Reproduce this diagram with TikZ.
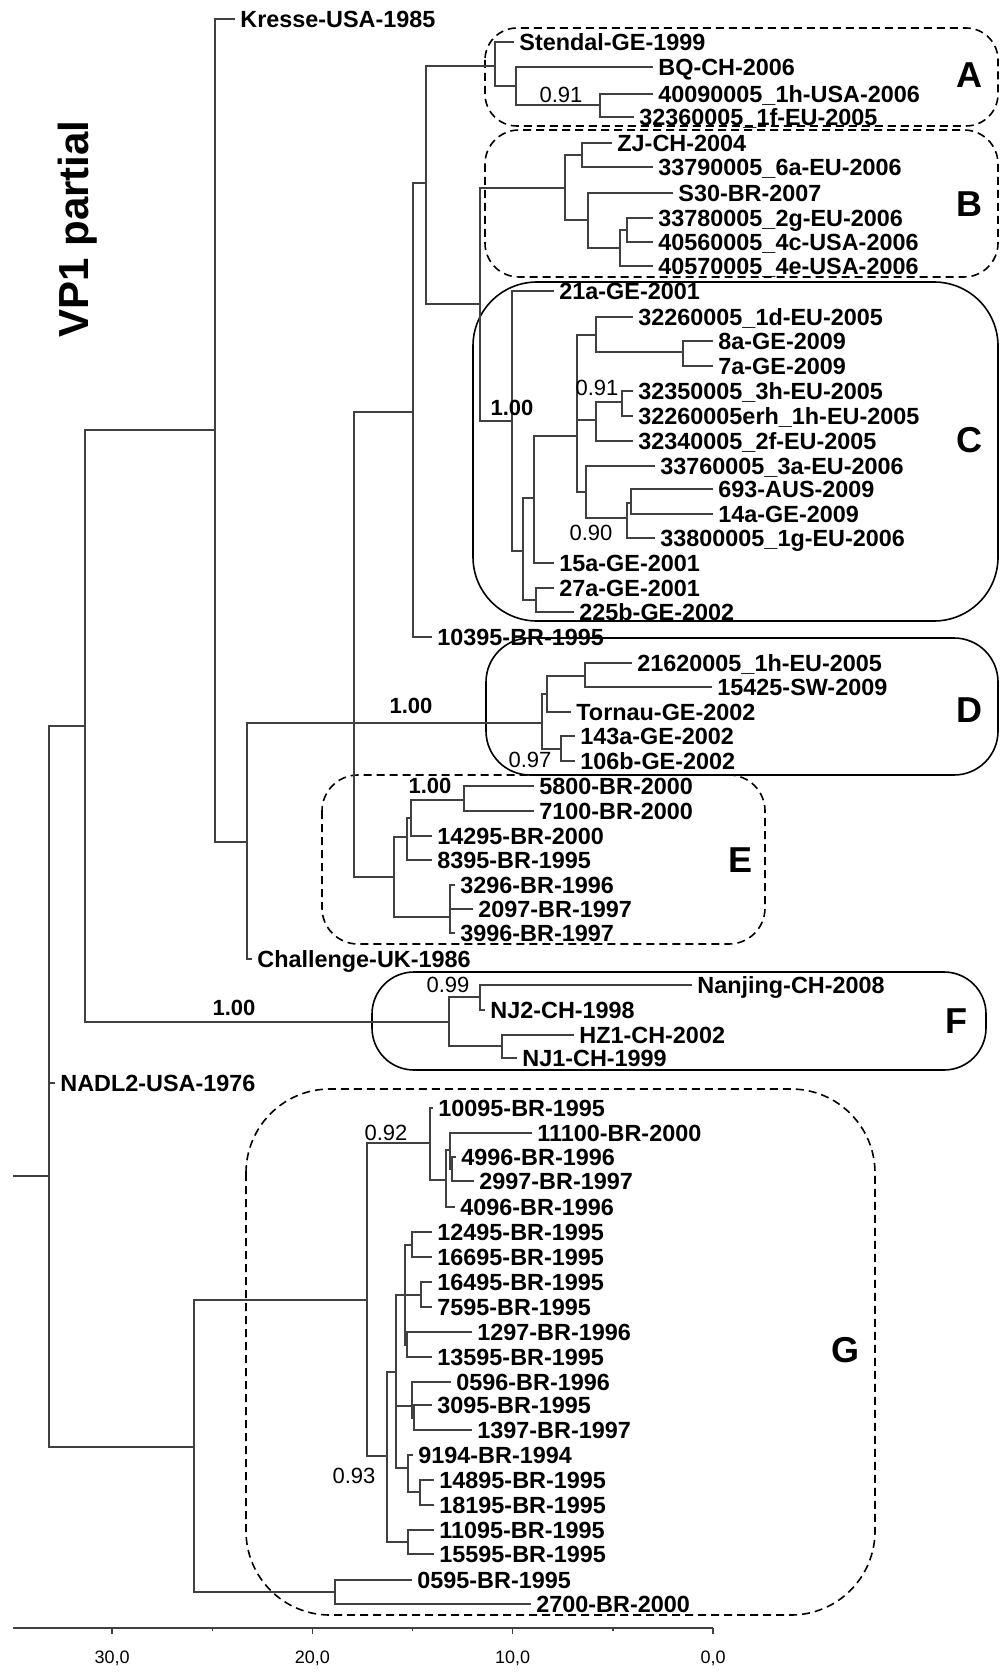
\documentclass[tikz,border=0pt]{standalone}
\usepackage{fontspec}
\setmainfont{Liberation Sans}
\begin{document}
\begin{tikzpicture}[x=0.5pt, y=-0.5pt,
    branch/.style={draw=black!75, line width=0.65pt},
    leaf/.style={anchor=west, inner xsep=2.5pt, inner ysep=0pt, text height=8.4pt, text depth=0pt, font=\bfseries\fontsize{11.7}{14}\selectfont},
    bsv/.style={inner sep=0pt, font=\fontsize{11}{13}\selectfont},
    bsvb/.style={bsv, font=\bfseries\fontsize{11}{13}\selectfont},
    grp/.style={draw=black, line width=0.8pt},
    grpdash/.style={grp, dash pattern=on 4pt off 2.5pt},
    grplbl/.style={inner sep=0pt, font=\bfseries\fontsize{18}{20}\selectfont},
    axl/.style={inner sep=0pt, font=\fontsize{9}{11}\selectfont}]
    \useasboundingbox (0,0) rectangle (1001,1673);
    \node[rotate=90, anchor=base west, inner sep=0pt, font=\bfseries\fontsize{21}{24}\selectfont] (title) at (88,338) {VP1 partial};
    \draw[grpdash, rounded corners=16pt] (485,28) rectangle (998,126);
    \draw[grpdash, rounded corners=17pt] (485,130) rectangle (998,277);
    \draw[grp, rounded corners=32pt] (473,282) rectangle (998,621);
    \draw[grp, rounded corners=22pt] (486,638) rectangle (998,775);
    \draw[grpdash, rounded corners=18pt] (322,775) rectangle (765,944);
    \draw[grp, rounded corners=21pt] (372,972) rectangle (986,1070);
    \draw[grpdash, rounded corners=42pt] (246,1089) rectangle (875,1615);
    \foreach \n/\x/\y in {A/969/75, B/969/204, C/969/440, D/969/710, E/740/860, F/956/1021, G/845/1350}
        \node[grplbl] (lbl\n) at (\x,\y) {\n};
    \foreach \n/\x/\y/\t in {kresse/235/19/Kresse-USA-1985, stendal/514/42/Stendal-GE-1999,
        bq/653/67/BQ-CH-2006, a1h/653/94/40090005\_1h-USA-2006, a1f/634/117/32360005\_1f-EU-2005,
        zj/612/143/ZJ-CH-2004, b6a/653/167/33790005\_6a-EU-2006, s30/673/193/S30-BR-2007,
        b2g/653/218/33780005\_2g-EU-2006, b4c/653/242/40560005\_4c-USA-2006, b4e/653/266/40570005\_4e-USA-2006,
        c21a/554/291/21a-GE-2001, c1d/633/317/32260005\_1d-EU-2005, c8a/713/341/8a-GE-2009,
        c7a/713/366/7a-GE-2009, c3h/633/391/32350005\_3h-EU-2005, cerh/633/416/32260005erh\_1h-EU-2005,
        c2f/633/441/32340005\_2f-EU-2005, c3a/655/466/33760005\_3a-EU-2006, c693/713/489/693-AUS-2009,
        c14a/713/514/14a-GE-2009, c1g/655/538/33800005\_1g-EU-2006, c15a/554/563/15a-GE-2001,
        c27a/554/588/27a-GE-2001, c225b/574/612/225b-GE-2002, br10395/432/637/10395-BR-1995,
        d1h/632/663/21620005\_1h-EU-2005, d15425/712/687/15425-SW-2009, tornau/571/712/Tornau-GE-2002,
        d143a/575/736/143a-GE-2002, d106b/575/761/106b-GE-2002,
        e5800/534/786/5800-BR-2000, e7100/534/811/7100-BR-2000, e14295/432/836/14295-BR-2000,
        e8395/432/860/8395-BR-1995, e3296/455/885/3296-BR-1996, e2097/473/909/2097-BR-1997,
        e3996/455/933/3996-BR-1997, challenge/252/959/Challenge-UK-1986,
        nanjing/692/985/Nanjing-CH-2008, nj2/485/1010/NJ2-CH-1998, hz1/574/1035/HZ1-CH-2002,
        nj1/517/1058/NJ1-CH-1999, nadl/55/1083/NADL2-USA-1976,
        g10095/433/1108/10095-BR-1995, g11100/532/1133/11100-BR-2000, g4996/456/1157/4996-BR-1996,
        g2997/474/1181/2997-BR-1997, g4096/455/1207/4096-BR-1996, g12495/432/1232/12495-BR-1995,
        g16695/432/1257/16695-BR-1995, g16495/432/1282/16495-BR-1995, g7595/432/1307/7595-BR-1995,
        g1297/472/1332/1297-BR-1996, g13595/432/1357/13595-BR-1995, g0596/451/1382/0596-BR-1996,
        g3095/432/1405/3095-BR-1995, g1397/472/1430/1397-BR-1997, g9194/413/1455/9194-BR-1994,
        g14895/434/1480/14895-BR-1995, g18195/434/1505/18195-BR-1995, g11095/434/1530/11095-BR-1995,
        g15595/434/1554/15595-BR-1995, g0595/412/1580/0595-BR-1995, g2700/531/1604/2700-BR-2000}
        \node[leaf] (\n) at (\x,\y) {\t};
    \foreach \n/\x/\y in {stub/13/1176, root/49/1176, n85/85/726, nK/215/430, nCh/247/842,
        nY/354/723, nZ/413/412, nX1/426/183, nX2/480/304,
        nA/495/66, nA2/516/86, nA3/600/105,
        nB/565/188, nB1/582/155, nB2/588/220, nB3/620/248, nB4/627/230,
        nC/512/421, nC2/523/551, nC3/534/498, nC4/536/600, nC5/577/436, nC6/596/335,
        nC9/683/352, nC7/596/420, nC7a/622/402, nC8/586/492, nC10/627/518, nC11/631/503,
        nD/542/723, nD1/547/694, nD1a/585/676, nD2/561/749,
        nE/394/877, nE1/407/837, nE1a/411/818, nE3/464/800, nE2/450/917,
        nF/449/1022, nF1/480/997, nF2/502/1046,
        nGG/194/1447, nG0/367/1300, nG1/430/1143, nG1b/446/1180, nG1c/450/1150, nG1d/452/1169,
        nG2/387/1456, nG3/396/1372, nG3a/405/1295, nG4/412/1245, nG5/421/1295, nG6/407/1345,
        nG3b/412/1406, nG7/414/1418, nG3c/408/1468, nG3d/420/1492, nG8/408/1542, nG9/335/1592}
        \coordinate (\n) at (\x,\y);
    \draw[branch] (stub) -- (root);
    \foreach \p/\c in {root/n85, root/nadl, root/nGG, n85/nK, n85/nF, nK/kresse, nK/nCh,
        nCh/nY, nCh/challenge, nY/nZ, nY/nD, nY/nE, nZ/nX1, nZ/br10395, nX1/nA, nX1/nX2,
        nX2/nB, nX2/nC, nA/stendal, nA/nA2, nA2/bq, nA2/nA3, nA3/a1h, nA3/a1f,
        nB/nB1, nB/nB2, nB1/zj, nB1/b6a, nB2/s30, nB2/nB3, nB3/nB4, nB3/b4e, nB4/b2g, nB4/b4c,
        nC/c21a, nC/nC2, nC2/nC3, nC2/nC4, nC3/nC5, nC3/c15a, nC4/c27a, nC4/c225b,
        nC5/nC6, nC5/nC7, nC5/nC8, nC6/c1d, nC6/nC9, nC9/c8a, nC9/c7a,
        nC7/nC7a, nC7/c2f, nC7a/c3h, nC7a/cerh, nC8/c3a, nC8/nC10, nC10/nC11, nC10/c1g,
        nC11/c693, nC11/c14a, nD/nD1, nD/nD2, nD1/nD1a, nD1/tornau, nD1a/d1h, nD1a/d15425,
        nD2/d143a, nD2/d106b, nE/nE1, nE/nE2, nE1/nE1a, nE1/e8395, nE1a/nE3, nE1a/e14295,
        nE3/e5800, nE3/e7100, nE2/e3296, nE2/e2097, nE2/e3996,
        nF/nF1, nF/nF2, nF1/nanjing, nF1/nj2, nF2/hz1, nF2/nj1,
        nGG/nG0, nGG/nG9, nG0/nG1, nG0/nG2, nG1/g10095, nG1/nG1b, nG1b/nG1c, nG1b/g4096,
        nG1c/g11100, nG1c/nG1d, nG1d/g4996, nG1d/g2997, nG2/nG3, nG2/nG8,
        nG3/nG3a, nG3/nG3b, nG3/nG3c, nG3a/nG4, nG3a/nG5, nG3a/nG6,
        nG4/g12495, nG4/g16695, nG5/g16495, nG5/g7595, nG6/g1297, nG6/g13595,
        nG3b/g0596, nG3b/nG7, nG7/g3095, nG7/g1397, nG3c/g9194, nG3c/nG3d,
        nG3d/g14895, nG3d/g18195, nG8/g11095, nG8/g15595, nG9/g0595, nG9/g2700}
        \draw[branch] (\p) |- (\c);
    \foreach \n/\x/\y/\v in {bsA/561/95/0.91, bsC1/597/388/0.91, bsC2/591/533/0.90,
        bsD/530/760/0.97, bsF/448/985/0.99, bsG1/386/1133/0.92, bsG2/354/1476/0.93}
        \node[bsv] (\n) at (\x,\y) {\v};
    \foreach \n/\x/\y in {bsC/512/408, bsDr/411/706, bsE/430/786, bsFr/234/1008}
        \node[bsvb] (\n) at (\x,\y) {1.00};
    \draw[branch] (13,1628) -- (713,1628);
    \foreach \t in {0,10,20,30} {
        \draw[branch] ({713-20.03*\t},1628) -- ++(0,6);
        \node[axl] (ax\t) at ({713-20.03*\t},1658) {\t,0};
    }
    \foreach \t in {5,15,25}
        \draw[branch] ({713-20.03*\t},1628) -- ++(0,3);
\end{tikzpicture}
\end{document}
